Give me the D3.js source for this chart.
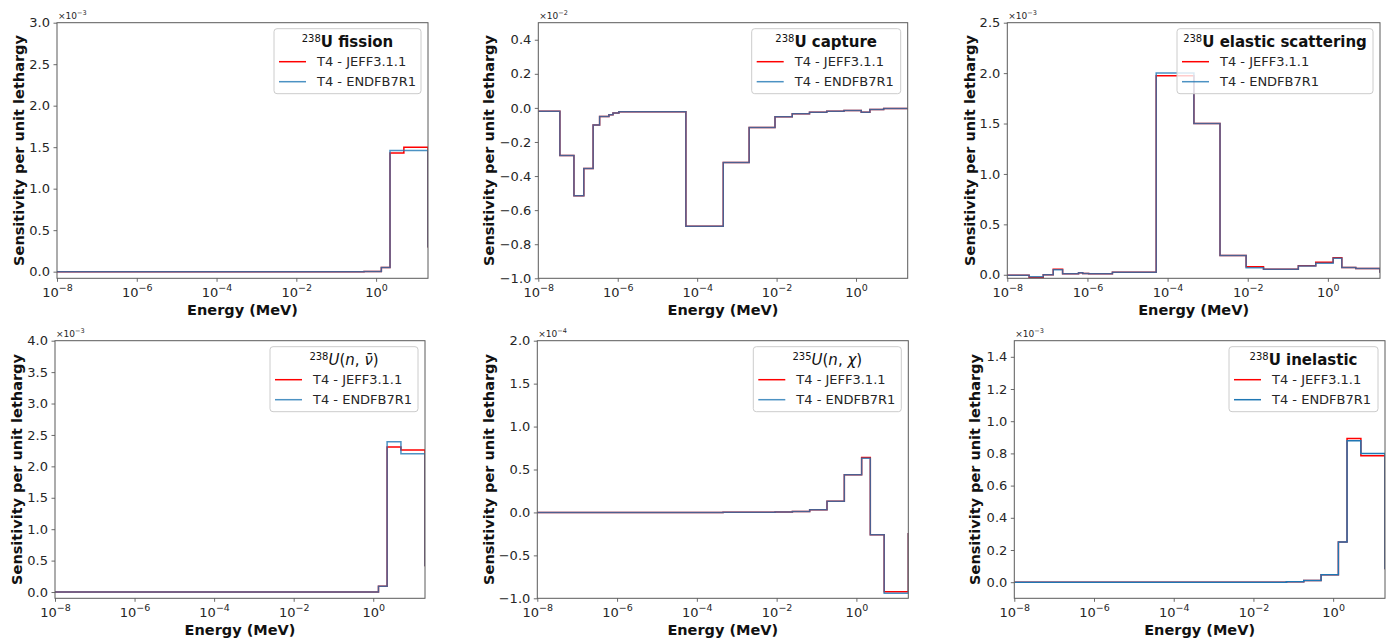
<!DOCTYPE html>
<html>
<head>
<meta charset="utf-8">
<script src="https://cdn.jsdelivr.net/npm/d3@7"></script>
<style>
  html, body { margin: 0; padding: 0; background: #fff; }
  svg { display: block; font-family: "DejaVu Sans", sans-serif; }
</style>
</head>
<body>
<svg id="chart" width="1393" height="642"></svg>
<script>
// ---------------- DATA ----------------
// Group boundaries (MeV); the last entry closes the final group
const energyBounds = [1e-8, 3.5e-8, 7.9e-8, 1.4e-7, 2.4e-7, 3.5e-7, 6.0e-7, 7.6e-7, 1.07e-6, 4.2e-6,
  5.2e-5, 4.54e-4, 2.0347e-3, 9.1188e-3, 2.4788e-2, 6.7379e-2, 0.18316, 0.49787, 1.3534, 2.2313, 4.966, 20];

const xTickValues = [1e-8, 1e-6, 1e-4, 1e-2, 1];
const seriesNames = ["T4 - JEFF3.1.1", "T4 - ENDFB7R1"];

// 238U fission (x1e-3)
const fissionJEFF = [0,0,0,0,0,0,0,0,0,0,0,0,0,0,0,0,0,0.002,0.05,1.43,1.50,0.29];
const fissionENDF = [0,0,0,0,0,0,0,0,0,0,0,0,0,0,0,0,0,0.002,0.05,1.46,1.46,0.29];
const fissionYTicks = [0.0, 0.5, 1.0, 1.5, 2.0, 2.5, 3.0];

// 238U capture (x1e-2)
const captureJEFF = [-0.02,-0.28,-0.515,-0.355,-0.10,-0.05,-0.04,-0.03,-0.022,-0.022,-0.695,-0.32,-0.115,-0.052,-0.035,-0.025,-0.02,-0.015,-0.025,-0.01,-0.003,0.0];
const captureENDF = [-0.02,-0.28,-0.515,-0.355,-0.10,-0.05,-0.04,-0.03,-0.022,-0.022,-0.695,-0.32,-0.115,-0.052,-0.035,-0.025,-0.02,-0.015,-0.025,-0.01,-0.003,0.0];
const captureYTicks = [-1.0, -0.8, -0.6, -0.4, -0.2, 0.0, 0.2, 0.4];

// 238U elastic scattering (x1e-3)
const elasticJEFF = [-0.005,-0.028,0.0,0.055,0.01,0.01,0.02,0.012,0.01,0.025,1.975,1.50,0.19,0.08,0.055,0.055,0.09,0.125,0.17,0.072,0.062,0.02];
const elasticENDF = [-0.005,-0.02,0.0,0.05,0.01,0.01,0.02,0.012,0.01,0.025,2.00,1.50,0.19,0.07,0.055,0.055,0.088,0.115,0.165,0.072,0.062,0.02];
const elasticYTicks = [0.0, 0.5, 1.0, 1.5, 2.0, 2.5];

// 238U nubar (x1e-3)
const nubarJEFF = [0,0,0,0,0,0,0,0,0,0,0,0,0,0,0,0,0,0.002,0.09,2.31,2.26,0.41];
const nubarENDF = [0,0,0,0,0,0,0,0,0,0,0,0,0,0,0,0,0,0.002,0.09,2.39,2.20,0.41];
const nubarYTicks = [0.0, 0.5, 1.0, 1.5, 2.0, 2.5, 3.0, 3.5, 4.0];

// 235U chi (x1e-4)
const chiJEFF = [0,0,0,0,0,0,0,0,0,0,0,0.001,0.002,0.005,0.012,0.03,0.13,0.44,0.64,-0.26,-0.925,-0.24];
const chiENDF = [0,0,0,0,0,0,0,0,0,0,0,0.001,0.002,0.005,0.012,0.03,0.13,0.44,0.63,-0.26,-0.94,-0.24];
const chiYTicks = [-1.0, -0.5, 0.0, 0.5, 1.0, 1.5, 2.0];

// 238U inelastic (x1e-3)
const inelasticJEFF = [0,0,0,0,0,0,0,0,0,0,0,0,0,0,0,0.003,0.01,0.047,0.25,0.893,0.786,0.08];
const inelasticENDF = [0,0,0,0,0,0,0,0,0,0,0,0,0,0,0,0.003,0.01,0.047,0.25,0.878,0.80,0.08];
const inelasticYTicks = [0.0, 0.2, 0.4, 0.6, 0.8, 1.0, 1.2, 1.4];

// ---------------- LAYOUT ----------------
const panels = [
  { jeff: fissionJEFF, endf: fissionENDF, ticks: fissionYTicks, yDom: [-0.08, 3.0], exp: "−3",
    rect: [57, 428, 22.7, 278.3], labX: 18.5, legW: 147, title: {type: "bold", sup: "238", txt: "U fission"}, blueOpacity: 0.8 },
  { jeff: captureJEFF, endf: captureENDF, ticks: captureYTicks, yDom: [-1.0, 0.5], exp: "−2",
    rect: [538.3, 907.7, 22.7, 278.3], labX: 488.5, legW: 149, title: {type: "bold", sup: "238", txt: "U capture"}, blueOpacity: 0.8 },
  { jeff: elasticJEFF, endf: elasticENDF, ticks: elasticYTicks, yDom: [-0.035, 2.5], exp: "−3",
    rect: [1007.3, 1380, 22.7, 278.3], labX: 969.5, legW: 196, title: {type: "bold", sup: "238", txt: "U elastic scattering"}, blueOpacity: 0.8 },
  { jeff: nubarJEFF, endf: nubarENDF, ticks: nubarYTicks, yDom: [-0.1, 4.0], exp: "−3",
    rect: [55, 425, 340.7, 598.3], labX: 16.8, legW: 148, title: {type: "math", sup: "238", letter: "U", arg: "ν̄"}, blueOpacity: 0.8 },
  { jeff: chiJEFF, endf: chiENDF, ticks: chiYTicks, yDom: [-1.0, 2.0], exp: "−4",
    rect: [537.3, 908.3, 340.7, 598.3], labX: 488.5, legW: 148, title: {type: "math", sup: "235", letter: "U", arg: "χ"}, blueOpacity: 0.8 },
  { jeff: inelasticJEFF, endf: inelasticENDF, ticks: inelasticYTicks, yDom: [-0.1, 1.5], exp: "−3",
    rect: [1014.3, 1385, 340.7, 598.3], labX: 975, legW: 149, title: {type: "bold", sup: "238", txt: "U inelastic"}, blueOpacity: 1.0 }
];

const RED = "#ff0000";
const BLUE = "#1f77b4";
const SPINE = "#5a5a5a";
const TXT = "#262626";

const svg = d3.select("#chart");
svg.append("rect").attr("width", 1393).attr("height", 642).attr("fill", "#fff");

const fmt = d3.format(".1f");
const minusFmt = v => fmt(v).replace("-", "−");

panels.forEach(p => {
  const [x0, x1, y0, y1] = p.rect;
  const x = d3.scaleLog().domain([1e-8, 20]).range([x0, x1]);
  const y = d3.scaleLinear().domain(p.yDom).range([y1, y0]);
  const g = svg.append("g");

  const cid = "clip" + Math.round(x0) + "_" + Math.round(y0);
  g.append("clipPath").attr("id", cid).append("rect")
    .attr("x", x0).attr("y", y0).attr("width", x1 - x0).attr("height", y1 - y0);

  const line = d3.line().x(d => x(d[0])).y(d => y(d[1])).curve(d3.curveStepAfter);
  const ptsJ = energyBounds.map((e, i) => [e, p.jeff[i]]);
  const ptsE = energyBounds.map((e, i) => [e, p.endf[i]]);
  const lg = g.append("g").attr("clip-path", `url(#${cid})`);
  lg.append("path").attr("d", line(ptsJ)).attr("fill", "none").attr("stroke", RED).attr("stroke-width", 1.5);
  lg.append("path").attr("d", line(ptsE)).attr("fill", "none").attr("stroke", BLUE)
    .attr("stroke-opacity", p.blueOpacity).attr("stroke-width", 1.5);

  const yAxis = d3.axisLeft(y).tickValues(p.ticks).tickSize(3.5).tickPadding(3.5).tickFormat(minusFmt);
  const ya = g.append("g").attr("transform", `translate(${x0},0)`).call(yAxis);
  ya.select(".domain").remove();
  ya.selectAll("line").attr("stroke", SPINE).attr("stroke-width", 0.9);
  ya.selectAll("text").attr("font-size", 13).attr("fill", TXT).attr("font-family", "DejaVu Sans");

  const xAxis = d3.axisBottom(x).tickValues(xTickValues).tickSize(3.5).tickPadding(3).tickFormat("");
  const xa = g.append("g").attr("transform", `translate(0,${y1})`).call(xAxis);
  xa.select(".domain").remove();
  xa.selectAll("line").attr("stroke", SPINE).attr("stroke-width", 0.9);
  xa.selectAll(".tick").each(function(d) {
    const t = d3.select(this).append("text").attr("y", 18.5).attr("text-anchor", "middle")
      .attr("fill", TXT).attr("font-size", 13).attr("font-family", "DejaVu Sans");
    t.append("tspan").text("10");
    const e = Math.round(Math.log10(d));
    t.append("tspan").attr("dy", -6).attr("font-size", 9.5).text(e < 0 ? "−" + (-e) : String(e));
  });

  g.append("rect").attr("x", x0).attr("y", y0).attr("width", x1 - x0).attr("height", y1 - y0)
    .attr("fill", "none").attr("stroke", SPINE).attr("stroke-width", 1);

  g.append("text").attr("x", (x0 + x1) / 2).attr("y", y1 + 37).attr("text-anchor", "middle")
    .attr("font-weight", "bold").attr("font-size", 14.5).attr("fill", "#111").text("Energy (MeV)");
  g.append("text").attr("transform", `translate(${p.labX},${(y0 + y1) / 2}) rotate(-90)`)
    .attr("text-anchor", "middle").attr("dominant-baseline", "central")
    .attr("font-weight", "bold").attr("font-size", 14.5).attr("fill", "#111").text("Sensitivity per unit lethargy");

  const ot = g.append("text").attr("x", x0 + 1).attr("y", y0 - 4).attr("font-size", 9).attr("fill", TXT);
  ot.append("tspan").text("×10");
  ot.append("tspan").attr("dy", -4).attr("font-size", 6.5).text(p.exp);

  const lw = p.legW, lh = 65;
  const lx = x1 - 7 - lw, ly = y0 + 6;
  const leg = g.append("g").attr("transform", `translate(${lx},${ly})`);
  leg.append("rect").attr("width", lw).attr("height", lh).attr("rx", 3)
    .attr("fill", "#fff").attr("fill-opacity", 0.8).attr("stroke", "#cccccc").attr("stroke-width", 1);
  const tt = leg.append("text").attr("x", lw / 2).attr("y", 18).attr("text-anchor", "middle").attr("fill", "#111");
  if (p.title.type === "bold") {
    tt.append("tspan").attr("font-size", 10).attr("dy", -5).text(p.title.sup);
    tt.append("tspan").attr("font-size", 15).attr("font-weight", "bold").attr("dy", 5).text(p.title.txt);
  } else {
    tt.append("tspan").attr("font-size", 10).attr("dy", -5).text(p.title.sup);
    tt.append("tspan").attr("font-size", 15).attr("font-style", "italic").attr("dy", 5).text(p.title.letter);
    tt.append("tspan").attr("font-size", 15).text("(");
    tt.append("tspan").attr("font-size", 15).attr("font-style", "italic").text("n");
    tt.append("tspan").attr("font-size", 15).text(", ");
    tt.append("tspan").attr("font-size", 15).attr("font-style", "italic").text(p.title.arg);
    tt.append("tspan").attr("font-size", 15).text(")");
  }
  const entries = [{name: seriesNames[0], c: RED, o: 1}, {name: seriesNames[1], c: BLUE, o: p.blueOpacity}];
  entries.forEach((en, i) => {
    const yy = 33 + i * 20;
    leg.append("line").attr("x1", 5).attr("x2", 32).attr("y1", yy).attr("y2", yy)
      .attr("stroke", en.c).attr("stroke-opacity", en.o).attr("stroke-width", 1.5);
    leg.append("text").attr("x", 43).attr("y", yy).attr("dominant-baseline", "central")
      .attr("font-size", 13).attr("fill", TXT).text(en.name);
  });
});
</script>
</body>
</html>
